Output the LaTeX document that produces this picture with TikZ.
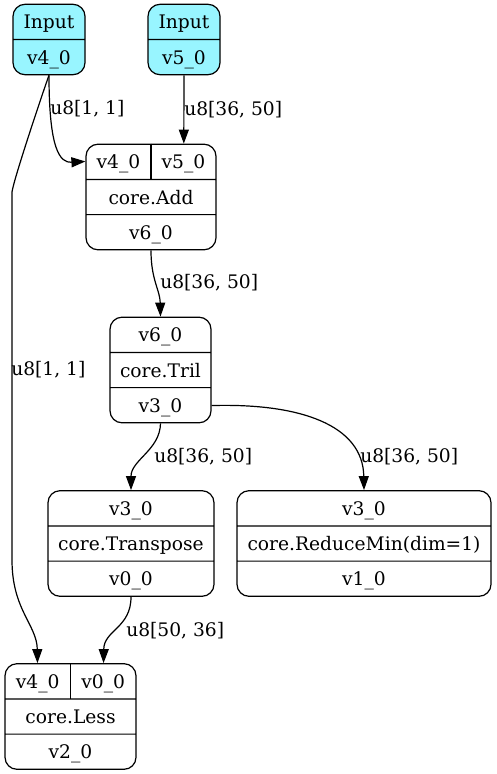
\documentclass[tikz,border=0pt]{standalone}
\usepackage{fontspec}
\setmainfont{DejaVu Serif}
\usepackage{tikz}
\usetikzlibrary{shapes.multipart, arrows.meta, calc}
\definecolor{inputcyan}{RGB}{152, 245, 255}
\newcommand{\fstrut}{\rule[-7.5pt]{0pt}{25.5pt}}
\tikzstyle{op} = [
    rectangle split,
    rectangle split parts=3,
    rounded corners=9pt,
    draw,
    line width=0.9pt,
    inner xsep=0pt,
    inner ysep=0pt,
    font=\fontsize{14}{16}\selectfont
]
\tikzstyle{input} = [
    op,
    rectangle split parts=2,
    fill=inputcyan
]
\tikzstyle{edge} = [
    line width=0.9pt,
    -{Triangle[length=10.5pt, width=7.5pt]}
]
\tikzstyle{lbl} = [
    anchor=west,
    inner sep=0pt,
    font=\fontsize{14}{16}\selectfont
]
\begin{document}
\begin{tikzpicture}[x=0.75pt, y=-0.75pt]
        \useasboundingbox (0, 0) rectangle (496, 774);
        % Nodes
        \node[input, minimum width=54pt] (in4) at (49, 39.5) {\fstrut Input\nodepart{two}\fstrut v4\_0};
        \node[input, minimum width=54pt] (in5) at (184, 39.5) {\fstrut Input\nodepart{two}\fstrut v5\_0};
        \node[op, minimum width=97.5pt] (add) at (151, 197) {\fstrut\makebox[48.75pt]{v4\_0}\makebox[48.75pt]{v5\_0}\nodepart{two}\fstrut core.Add\nodepart{three}\fstrut v6\_0};
        \node[op, minimum width=75.75pt] (tril) at (160.5, 370) {\fstrut v6\_0\nodepart{two}\fstrut core.Tril\nodepart{three}\fstrut v3\_0};
        \node[op, minimum width=124.5pt] (transpose) at (131, 543.5) {\fstrut v3\_0\nodepart{two}\fstrut core.Transpose\nodepart{three}\fstrut v0\_0};
        \node[op, minimum width=190.5pt] (reducemin) at (364, 543.5) {\fstrut v3\_0\nodepart{two}\fstrut core.ReduceMin(dim=1)\nodepart{three}\fstrut v1\_0};
        \node[op, minimum width=98.25pt] (less) at (70.5, 716.5) {\fstrut\makebox[49.125pt]{v4\_0}\makebox[49.125pt]{v0\_0}\nodepart{two}\fstrut core.Less\nodepart{three}\fstrut v2\_0};
        
        % Port dividers
        \draw[line width=0.9pt] (add.north) -- (add.text split);
        \draw[line width=0.9pt] (less.north) -- (less.text split);
        
        % Edges
        \draw[edge] (in4.south) .. controls (49, 150) and (60, 163) .. ($(add.north west)!0.167!(add.south west)$);
        \draw[edge] (in5.south) -- ($(add.north)!0.5!(add.north east)$);
        \draw[edge] (add.south) .. controls (151, 280) and (160, 290) .. (tril.north);
        \draw[edge] (in4.south) .. controls (45, 86) and (14, 178) .. (12, 192) -- (12, 560) .. controls (12, 610) and (37, 625) .. ($(less.north west)!0.25!(less.north east)$);
        \draw[edge] (tril.south) .. controls (160, 450) and (131, 460) .. (transpose.north);
        \draw[edge] ($(tril.north east)!0.833!(tril.south east)$) .. controls (300, 403) and (363, 425) .. (reducemin.north);
        \draw[edge] (transpose.south) .. controls (131, 628) and (104, 630) .. ($(less.north west)!0.75!(less.north east)$);
        
        % Edge labels
        \node[lbl] (l1) at (50, 109) {u8[1, 1]};
        \node[lbl] (l2) at (184, 110) {u8[36, 50]};
        \node[lbl] (l3) at (160, 283) {u8[36, 50]};
        \node[lbl] (l4) at (11, 370) {u8[1, 1]};
        \node[lbl] (l5) at (154, 457) {u8[36, 50]};
        \node[lbl] (l6) at (360, 457) {u8[36, 50]};
        \node[lbl] (l7) at (126, 631) {u8[50, 36]};
    \end{tikzpicture}
\end{document}
